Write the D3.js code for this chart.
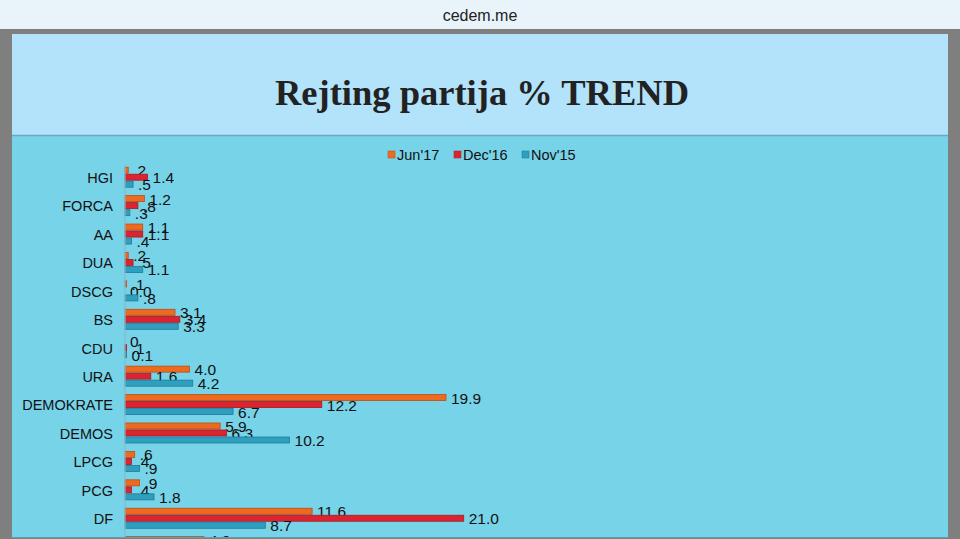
<!DOCTYPE html>
<html><head><meta charset="utf-8">
<script src="https://cdn.jsdelivr.net/npm/d3@7"></script>
<style>html,body{margin:0;padding:0;background:#7f7f7f;overflow:hidden}</style>
</head><body>
<svg id="c" width="960" height="539"></svg>
<script>
const categories = ["HGI","FORCA","AA","DUA","DSCG","BS","CDU","URA","DEMOKRATE","DEMOS","LPCG","PCG","DF","SDP"];
const seriesNames = ["Jun'17","Dec'16","Nov'15"];
const jun17 = [0.2,1.2,1.1,0.2,0.1,3.1,0,4.0,19.9,5.9,0.6,0.9,11.6,4.9];
const dec16 = [1.4,0.8,1.1,0.5,0.0,3.4,0.1,1.6,12.2,6.3,0.4,0.4,21.0,null];
const nov15 = [0.5,0.3,0.4,1.1,0.8,3.3,0.1,4.2,6.7,10.2,0.9,1.8,8.7,null];
const jun17Labels = [".2","1.2","1.1",".2",".1","3.1","0","4.0","19.9","5.9",".6",".9","11.6","4.9"];
const dec16Labels = ["1.4",".8","1.1",".5","0.0","3.4",".1","1.6","12.2","6.3",".4",".4","21.0",""];
const nov15Labels = [".5",".3",".4","1.1",".8","3.3","0.1","4.2","6.7","10.2",".9","1.8","8.7",""];
const colors = ["#ee6a1f","#dc2430","#2f9fc0"];
const strokes = ["#b5501a","#a51c25","#237a94"];

const svg = d3.select("#c");
svg.append("rect").attr("x",0).attr("y",0).attr("width",960).attr("height",29).attr("fill","#e8f3fa");
svg.append("text").attr("x",480).attr("y",21).attr("text-anchor","middle")
  .attr("font-family","Liberation Sans, Arial, sans-serif").attr("font-size",16).attr("fill","#222").text("cedem.me");
svg.append("rect").attr("x",12).attr("y",34).attr("width",936).attr("height",102).attr("fill","#b3e2fb");
svg.append("rect").attr("x",12).attr("y",136).attr("width",936).attr("height",410).attr("fill","#77d3e8");
svg.append("line").attr("x1",12).attr("x2",948).attr("y1",135.5).attr("y2",135.5).attr("stroke","#6aaac4").attr("stroke-width",1.5);
svg.append("text").attr("x",482).attr("y",105).attr("text-anchor","middle")
  .attr("font-family","Liberation Serif, Times New Roman, serif").attr("font-weight","bold")
  .attr("font-size",36.5).attr("fill","#222").text("Rejting partija % TREND");

const leg = svg.append("g").attr("font-family","Liberation Sans, Arial, sans-serif").attr("font-size",14.5).attr("fill","#111");
const legX = [388,454,522];
seriesNames.forEach((s,i)=>{
  leg.append("rect").attr("x",legX[i]).attr("y",151).attr("width",7).attr("height",7).attr("fill",colors[i]).attr("stroke",strokes[i]).attr("stroke-width",0.5);
  leg.append("text").attr("x",legX[i]+9).attr("y",160).attr("fill","#111").text(s);
});

const x0 = 125;
const x = d3.scaleLinear().domain([0,21]).range([x0, x0 + 21*16.13]);
const y = d3.scaleBand().domain(categories).range([163, 163+14*28.42]).paddingInner(0.26).paddingOuter(0.13);
const ys = d3.scaleBand().domain(d3.range(3)).range([0, y.bandwidth()]);

const data = [jun17, dec16, nov15];
const labels = [jun17Labels, dec16Labels, nov15Labels];
const g = svg.append("g");
categories.forEach((c,ci)=>{
  data.forEach((arr,si)=>{
    const v = arr[ci];
    if (v === null) return;
    const by = y(c) + ys(si);
    g.append("rect").attr("x",x(0)).attr("y",by+0.5).attr("width",Math.max(0,x(v)-x(0))).attr("height",ys.bandwidth()-1)
      .attr("fill",colors[si]).attr("stroke",strokes[si]).attr("stroke-width",0.8);
    g.append("text").attr("x",x(v)+5).attr("y",by+ys.bandwidth()/2+6)
      .attr("font-family","Liberation Sans, Arial, sans-serif").attr("font-size",15.5).attr("fill","#111")
      .text(labels[si][ci]);
  });
});
const yAxis = d3.axisLeft(y).tickSize(0).tickPadding(12);
const ax = svg.append("g").attr("transform",`translate(${x0},0)`).call(yAxis);
ax.select(".domain").attr("stroke","#8ab8c8").attr("stroke-width",1.2).attr("d",`M0,165V560`);
ax.selectAll("text").attr("font-family","Liberation Sans, Arial, sans-serif").attr("font-size",14.5).attr("fill","#111").attr("dy","0.4em");
svg.append("rect").attr("x",0).attr("y",29).attr("width",12).attr("height",510).attr("fill","#7f7f7f");
svg.append("rect").attr("x",948).attr("y",29).attr("width",12).attr("height",510).attr("fill","#7f7f7f");
svg.append("rect").attr("x",0).attr("y",29).attr("width",960).attr("height",5).attr("fill","#7f7f7f");
svg.append("line").attr("x1",12).attr("x2",948).attr("y1",537.5).attr("y2",537.5).attr("stroke","#5a9fb4").attr("stroke-width",1);
svg.append("rect").attr("x",0).attr("y",538).attr("width",960).attr("height",2).attr("fill","#7f7f7f");
</script>
</body></html>
